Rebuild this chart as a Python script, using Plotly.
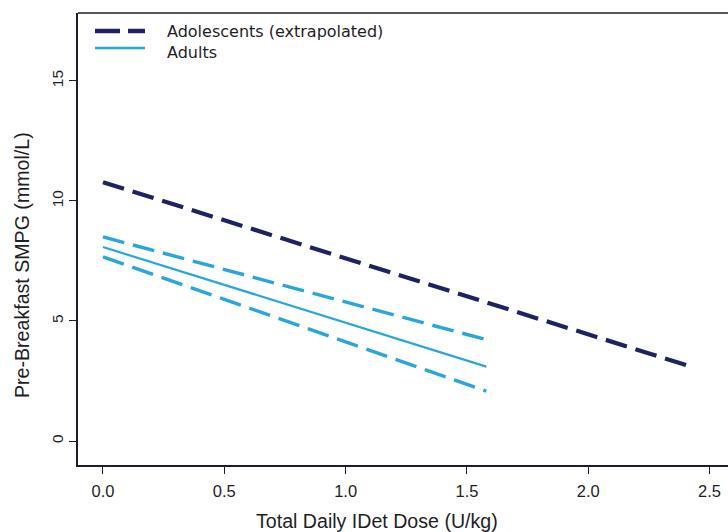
import plotly.graph_objects as go

# Dose (U/kg) at the start and end of each fitted line
adol_dose = [0.0, 2.43]
adol_smpg = [10.78, 3.08]

adult_dose = [0.0, 1.58]
adult_fit = [8.08, 3.1]
adult_upper = [8.5, 4.22]
adult_lower = [7.67, 2.08]

x_ticks = [0.0, 0.5, 1.0, 1.5, 2.0, 2.5]
y_ticks = [0, 5, 10, 15]

legend_labels = ["Adolescents (extrapolated)", "Adults"]

NAVY = "#1d2263"
BLUE = "#2aa5de"
INK = "#1e1e26"
FONT = "Liberation Sans, Arial, sans-serif"
LEGEND_FONT = "DejaVu Sans, Verdana, sans-serif"
DASH = "22px,9px"

fig = go.Figure()
fig.add_trace(go.Scatter(x=adol_dose, y=adol_smpg, mode="lines",
                         name=legend_labels[0],
                         line=dict(color=NAVY, width=4.2, dash=DASH)))
fig.add_trace(go.Scatter(x=adult_dose, y=adult_fit, mode="lines", name=legend_labels[1],
                         line=dict(color=BLUE, width=2.2)))
fig.add_trace(go.Scatter(x=adult_dose, y=adult_upper, mode="lines",
                         line=dict(color=BLUE, width=3.4, dash=DASH)))
fig.add_trace(go.Scatter(x=adult_dose, y=adult_lower, mode="lines",
                         line=dict(color=BLUE, width=3.4, dash=DASH)))

# plot area in pixels: left 78, top 13, width 650, height 452
L, T, W, H = 78, 13, 650, 452


def px_x(p):
    return (p - L) / W


def px_y(p):
    return (T + H - p) / H


# legend drawn as sample lines + one two-line label block in the top-left corner
legend_styles = [dict(color=NAVY, width=4.5, dash="25px,8px"),
                 dict(color=BLUE, width=2.6)]
legend_rows = [31, 48]
shapes = [
    # top border of the plot box
    dict(type="line", xref="paper", yref="paper", x0=0, x1=1, y0=1, y1=1,
         line=dict(color=INK, width=1.5)),
]
for style, row in zip(legend_styles, legend_rows):
    shapes.append(dict(type="line", xref="paper", yref="paper",
                       x0=px_x(95), x1=px_x(145), y0=px_y(row), y1=px_y(row),
                       line=style))

annotations = [
    dict(text="Total Daily IDet Dose (U/kg)", xref="paper", yref="paper",
         x=px_x(377), y=px_y(521), xanchor="center", yanchor="middle",
         showarrow=False, font=dict(size=19.6, family=FONT, color=INK)),
    dict(text="Pre-Breakfast SMPG (mmol/L)", xref="paper", yref="paper",
         x=px_x(22), y=px_y(265), xanchor="center", yanchor="middle", textangle=-90,
         showarrow=False, font=dict(size=19.6, family=FONT, color=INK)),
    dict(text="<br>".join(legend_labels), xref="paper", yref="paper",
         x=px_x(166), y=px_y(21), xanchor="left", yanchor="top", align="left",
         showarrow=False, borderpad=0,
         font=dict(size=16, family=LEGEND_FONT, color=INK)),
]

fig.update_layout(
    width=728, height=532,
    margin=dict(l=L, r=0, t=T, b=532 - T - H),
    plot_bgcolor="white", paper_bgcolor="white",
    font=dict(family=FONT, color=INK, size=16),
    showlegend=False,
    xaxis=dict(range=[-0.103, 2.576], tickvals=x_ticks,
               ticktext=[f"{v:.1f}" for v in x_ticks],
               showgrid=False, zeroline=False,
               showline=True, linecolor=INK, linewidth=1.5, mirror=False,
               ticks="outside", ticklen=7, tickwidth=1.3, tickcolor=INK,
               ticklabelstandoff=3, tickfont=dict(size=16.5)),
    yaxis=dict(range=[-1.0, 17.83], tickvals=y_ticks,
               showgrid=False, zeroline=False,
               showline=True, linecolor=INK, linewidth=1.5,
               ticks="outside", ticklen=7, tickwidth=1.3, tickcolor=INK,
               tickangle=-90, tickfont=dict(size=15.5)),
    annotations=annotations,
    shapes=shapes,
)

fig.write_html("out.html")
